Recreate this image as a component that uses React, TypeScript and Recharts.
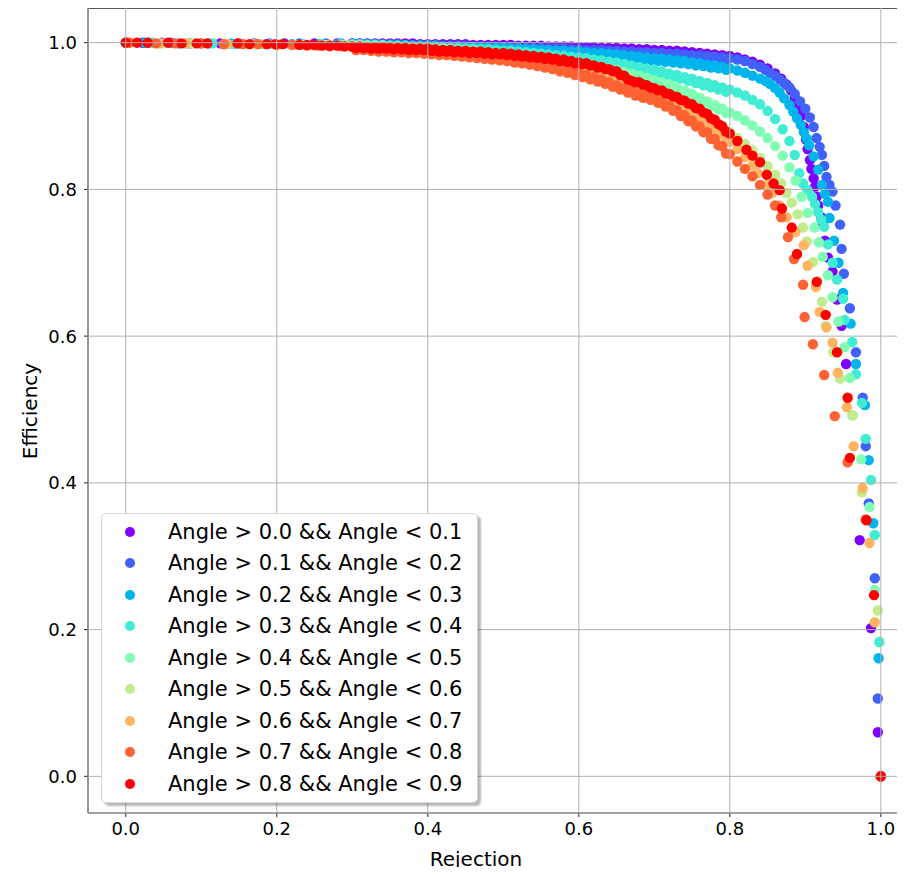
import React from 'react';
import { ScatterChart, Scatter, XAxis, YAxis, ZAxis, CartesianGrid, Legend, Label, ReferenceLine } from 'recharts';

type Pt = [number, number];

const xTicks = [0, 0.2, 0.4, 0.6, 0.8, 1.0];
const yTicks = [0, 0.2, 0.4, 0.6, 0.8, 1.0];

// rejection values of the dense top part of every curve
const bodyRejection = [
  0.30, 0.31, 0.32, 0.33, 0.34, 0.35, 0.36, 0.37, 0.38, 0.39,
  0.40, 0.41, 0.42, 0.43, 0.44, 0.45, 0.46, 0.47, 0.48, 0.49,
  0.50, 0.51, 0.52, 0.53, 0.54, 0.55, 0.56, 0.57, 0.58, 0.59,
  0.60, 0.61, 0.62, 0.63, 0.64, 0.65, 0.66, 0.67, 0.68, 0.69,
  0.70, 0.71, 0.72, 0.73, 0.74, 0.75, 0.76, 0.77, 0.78, 0.79,
  0.80,
];
// points lying in between (the bands are drawn by many overlapping dots)
const midRejection = [
  0.305, 0.315, 0.325, 0.335, 0.345, 0.355, 0.365, 0.375, 0.385, 0.395,
  0.405, 0.415, 0.425, 0.435, 0.445, 0.455, 0.465, 0.475, 0.485, 0.495,
  0.505, 0.515, 0.525, 0.535, 0.545, 0.555, 0.565, 0.575, 0.585, 0.595,
  0.605, 0.615, 0.625, 0.635, 0.645, 0.655, 0.665, 0.675, 0.685, 0.695,
  0.705, 0.715, 0.725, 0.735, 0.745, 0.755, 0.765, 0.775, 0.785, 0.795,
];

// Angle 0.0 - 0.1
const angle0Head: Pt[] = [[0.0, 1.0], [0.022, 1.0], [0.048, 1.0], [0.085, 0.999], [0.125, 0.999], [0.17, 0.999], [0.21, 0.999], [0.25, 0.999], [0.28, 0.999]];
const angle0Body = [
  .999, .999, .999, .999, .999, .999, .999, .999, .999, .998,
  .998, .998, .998, .998, .998, .998, .997, .997, .997, .997,
  .997, .997, .996, .996, .996, .996, .995, .995, .995, .995,
  .994, .994, .994, .993, .993, .993, .992, .992, .991, .991,
  .990, .990, .989, .989, .988, .987, .986, .985, .984, .983,
  .982,
];
const angle0Mid = [
  .997, .997, .997, .997, .997, .997, .997, .997, .996, .996,
  .996, .996, .996, .996, .996, .995, .995, .995, .995, .995,
  .995, .994, .994, .994, .994, .993, .993, .993, .993, .992,
  .992, .992, .991, .991, .991, .990, .990, .989, .989, .988,
  .988, .987, .987, .986, .985, .984, .983, .982, .981, .980,
];
const angle0Tail: Pt[] = [[.81, .980], [.82, .977], [.83, .974], [.84, .970], [.85, .965], [.86, .958], [.868, .951], [.875, .943], [.881, .935], [.886, .925], [.89, .913], [.894, .900], [.898, .885], [.901, .868], [.903, .855], [.906, .840], [.908, .828], [.911, .815], [.913, .804], [.915, .790], [.917, .778], [.921, .762], [.923, .752], [.926, .730], [.93, .707], [.936, .688], [.942, .650], [.948, .614], [.954, .562], [.972, .322], [.987, .202], [.996, .060], [1.0, 0.0]];

// Angle 0.1 - 0.2
const angle1Head: Pt[] = [[0.0, 1.0], [0.03, 1.0], [0.06, 1.0], [0.1, 0.999], [0.15, 0.999], [0.19, 0.999], [0.23, 0.999], [0.265, 0.999], [0.285, 0.999]];
const angle1Body = [
  .999, .999, .998, .998, .998, .998, .998, .997, .997, .997,
  .997, .997, .996, .996, .996, .996, .995, .995, .995, .995,
  .994, .994, .994, .993, .993, .993, .992, .992, .992, .991,
  .991, .990, .990, .990, .989, .989, .988, .988, .987, .987,
  .986, .986, .985, .985, .984, .983, .983, .982, .981, .980,
  .979,
];
const angle1Mid = [
  .996, .996, .995, .995, .995, .995, .995, .994, .994, .994,
  .994, .993, .993, .993, .993, .992, .992, .992, .992, .991,
  .991, .991, .990, .990, .990, .989, .989, .989, .988, .988,
  .987, .987, .987, .986, .986, .985, .985, .984, .984, .983,
  .983, .982, .982, .981, .980, .980, .979, .978, .977, .976,
];
const angle1Tail: Pt[] = [[.81, .977], [.82, .975], [.83, .971], [.84, .967], [.847, .963], [.853, .959], [.86, .955], [.866, .950], [.872, .945], [.879, .939], [.886, .930], [.893, .920], [.9, .910], [.906, .898], [.911, .885], [.915, .870], [.919, .858], [.922, .847], [.925, .832], [.928, .817], [.932, .806], [.936, .797], [.94, .778], [.946, .752], [.948, .719], [.951, .685], [.959, .638], [.967, .578], [.976, .516], [.98, .450], [.984, .372], [.992, .270], [.996, .106], [1.0, 0.0]];

// Angle 0.2 - 0.3
const angle2Head: Pt[] = [[0.0, 1.0], [0.025, 1.0], [0.07, 0.999], [0.11, 0.999], [0.14, 0.999], [0.185, 0.998], [0.22, 0.998], [0.255, 0.998], [0.28, 0.998]];
const angle2Body = [
  .998, .998, .998, .998, .997, .997, .997, .997, .996, .996,
  .996, .996, .995, .995, .995, .994, .994, .994, .993, .993,
  .993, .992, .992, .991, .991, .990, .990, .989, .989, .988,
  .988, .987, .986, .986, .985, .984, .983, .982, .981, .980,
  .979, .978, .977, .976, .975, .973, .972, .970, .969, .967,
  .965,
];
const angle2Mid = [
  .995, .995, .995, .994, .994, .994, .994, .993, .993, .993,
  .993, .992, .992, .992, .991, .991, .991, .990, .990, .990,
  .989, .989, .988, .988, .987, .987, .986, .986, .985, .985,
  .984, .983, .983, .982, .981, .980, .979, .978, .977, .976,
  .975, .974, .973, .972, .971, .969, .968, .966, .965, .963,
];
const angle2Tail: Pt[] = [[.81, .962], [.82, .959], [.83, .955], [.84, .951], [.847, .948], [.853, .944], [.86, .938], [.866, .932], [.872, .924], [.879, .915], [.884, .906], [.889, .897], [.894, .888], [.898, .878], [.902, .869], [.905, .860], [.911, .845], [.917, .827], [.922, .806], [.926, .794], [.93, .783], [.932, .761], [.938, .730], [.944, .700], [.95, .659], [.96, .617], [.967, .562], [.979, .506], [.984, .431], [.99, .345], [.997, .161], [1.0, 0.0]];

// Angle 0.3 - 0.4
const angle3Head: Pt[] = [[0.0, 1.0], [0.035, 1.0], [0.08, 0.999], [0.115, 0.999], [0.145, 0.998], [0.19, 0.998], [0.235, 0.998], [0.26, 0.998], [0.285, 0.998]];
const angle3Body = [
  .998, .998, .997, .997, .997, .996, .996, .996, .995, .995,
  .995, .994, .994, .993, .993, .992, .992, .991, .991, .990,
  .989, .989, .988, .987, .986, .985, .984, .983, .982, .981,
  .980, .979, .977, .976, .974, .973, .971, .969, .967, .965,
  .963, .961, .958, .956, .953, .951, .948, .945, .942, .939,
  .936,
];
const angle3Mid = [
  .994, .994, .993, .993, .993, .992, .992, .992, .991, .991,
  .990, .990, .989, .989, .988, .988, .987, .987, .986, .985,
  .985, .984, .983, .982, .981, .980, .979, .978, .977, .976,
  .975, .974, .972, .971, .970, .968, .966, .964, .962, .960,
  .958, .956, .953, .951, .948, .945, .942, .939, .936, .933,
];
const angle3Tail: Pt[] = [[.81, .932], [.82, .928], [.83, .922], [.84, .916], [.85, .907], [.86, .896], [.87, .882], [.879, .866], [.886, .847], [.892, .822], [.897, .808], [.903, .799], [.909, .790], [.913, .780], [.917, .769], [.921, .759], [.925, .749], [.93, .725], [.936, .700], [.942, .677], [.95, .651], [.952, .622], [.962, .592], [.967, .548], [.975, .509], [.98, .460], [.987, .404], [.992, .329], [.998, .183], [1.0, 0.0]];

// Angle 0.4 - 0.5
const angle4Head: Pt[] = [[0.0, 1.0], [0.045, 0.999], [0.09, 0.999], [0.13, 0.998], [0.17, 0.998], [0.205, 0.998], [0.24, 0.997], [0.27, 0.997], [0.29, 0.997]];
const angle4Body = [
  .997, .997, .996, .996, .996, .995, .995, .994, .994, .993,
  .993, .992, .992, .991, .990, .990, .989, .988, .987, .986,
  .985, .984, .983, .982, .981, .980, .979, .977, .976, .974,
  .973, .971, .969, .967, .965, .963, .960, .958, .955, .952,
  .949, .946, .943, .939, .935, .930, .925, .920, .915, .910,
  .905,
];
const angle4Mid = [
  .993, .993, .992, .992, .992, .991, .991, .990, .990, .989,
  .988, .988, .987, .987, .986, .985, .984, .983, .982, .981,
  .980, .979, .978, .977, .976, .975, .974, .972, .971, .970,
  .968, .966, .964, .962, .960, .958, .955, .953, .950, .947,
  .944, .941, .937, .933, .929, .924, .919, .914, .909, .904,
];
const angle4Tail: Pt[] = [[.81, .900], [.82, .894], [.83, .887], [.84, .879], [.85, .870], [.86, .859], [.87, .846], [.879, .830], [.887, .812], [.895, .790], [.903, .768], [.912, .748], [.918, .728], [.923, .708], [.93, .683], [.936, .653], [.944, .620], [.952, .585], [.959, .543], [.962, .492], [.974, .432], [.985, .367], [.992, .254], [1.0, 0.0]];

// Angle 0.5 - 0.6
const angle5Head: Pt[] = [[0.0, 1.0], [0.05, 0.999], [0.085, 0.999], [0.13, 0.998], [0.165, 0.998], [0.2, 0.997], [0.235, 0.997], [0.265, 0.997], [0.29, 0.996]];
const angle5Body = [
  .996, .996, .995, .995, .995, .994, .994, .993, .993, .992,
  .992, .991, .990, .990, .989, .988, .987, .986, .985, .984,
  .983, .982, .981, .979, .978, .976, .975, .973, .971, .969,
  .968, .965, .962, .959, .956, .953, .950, .946, .943, .940,
  .936, .932, .927, .922, .917, .911, .905, .899, .892, .885,
  .878,
];
const angle5Mid = [
  .992, .992, .991, .991, .991, .990, .989, .989, .988, .988,
  .987, .986, .986, .985, .984, .983, .982, .981, .980, .979,
  .978, .977, .976, .974, .973, .971, .970, .968, .966, .964,
  .962, .959, .956, .953, .950, .947, .944, .941, .937, .934,
  .930, .926, .921, .916, .910, .904, .898, .892, .885, .878,
];
const angle5Tail: Pt[] = [[.81, .870], [.82, .862], [.83, .853], [.84, .843], [.85, .832], [.86, .820], [.868, .808], [.875, .795], [.882, .782], [.89, .766], [.897, .748], [.902, .729], [.91, .701], [.916, .675], [.922, .647], [.927, .614], [.937, .578], [.946, .542], [.963, .492], [.975, .387], [.996, .226], [1.0, 0.0]];

// Angle 0.6 - 0.7
const angle6Head: Pt[] = [[0.005, 1.0], [0.045, 0.999], [0.08, 0.999], [0.135, 0.998], [0.155, 0.998], [0.178, 0.998], [0.2, 0.997], [0.225, 0.997], [0.25, 0.996], [0.27, 0.996], [0.29, 0.995]];
const angle6Body = [
  .995, .995, .994, .994, .993, .993, .992, .992, .991, .991,
  .990, .990, .989, .989, .988, .987, .987, .986, .985, .985,
  .984, .983, .982, .981, .980, .979, .977, .976, .974, .972,
  .970, .968, .965, .962, .959, .956, .952, .948, .944, .940,
  .935, .930, .925, .919, .913, .907, .900, .892, .884, .875,
  .865,
];
const angle6Mid = [
  .991, .991, .990, .990, .989, .989, .988, .988, .987, .987,
  .986, .986, .985, .984, .984, .983, .982, .981, .981, .980,
  .979, .978, .977, .976, .975, .974, .972, .971, .969, .967,
  .965, .962, .960, .957, .953, .950, .946, .942, .938, .934,
  .929, .924, .918, .912, .906, .900, .892, .884, .875, .866,
];
const angle6Tail: Pt[] = [[.81, .855], [.82, .844], [.83, .833], [.837, .822], [.848, .806], [.856, .795], [.866, .778], [.875, .762], [.887, .742], [.898, .724], [.903, .696], [.914, .667], [.919, .633], [.928, .612], [.936, .591], [.943, .550], [.955, .503], [.964, .450], [.976, .393], [.985, .318], [.992, .210], [1.0, 0.0]];

// Angle 0.7 - 0.8
const angle7Head: Pt[] = [[0.005, 1.0], [0.04, 0.999], [0.065, 0.999], [0.1, 0.999], [0.13, 0.998], [0.155, 0.998], [0.175, 0.998], [0.2, 0.997], [0.22, 0.997], [0.24, 0.996], [0.255, 0.996], [0.27, 0.995], [0.285, 0.995]];
const angle7Body = [
  .994, .994, .993, .993, .992, .992, .991, .991, .990, .990,
  .989, .988, .987, .987, .986, .985, .984, .983, .982, .981,
  .980, .978, .977, .975, .973, .971, .969, .967, .964, .962,
  .959, .956, .953, .950, .946, .942, .938, .934, .931, .928,
  .925, .920, .914, .908, .901, .894, .886, .878, .869, .859,
  .848,
];
const angle7Mid = [
  .990, .990, .989, .988, .988, .987, .987, .986, .986, .985,
  .984, .983, .983, .982, .981, .980, .979, .978, .977, .976,
  .975, .973, .972, .970, .968, .966, .964, .961, .959, .956,
  .953, .950, .947, .944, .940, .936, .932, .928, .925, .922,
  .918, .913, .907, .900, .893, .886, .878, .869, .860, .849,
];
const angle7Tail: Pt[] = [[.81, .838], [.82, .828], [.83, .818], [.84, .806], [.85, .793], [.86, .778], [.868, .762], [.877, .735], [.885, .705], [.897, .670], [.899, .626], [.91, .589], [.925, .547], [.939, .491], [.956, .428], [.98, .350], [1.0, 0.0]];

// Angle 0.8 - 0.9
const angle8Head: Pt[] = [[0.0, 1.0], [0.015, 1.0], [0.029, 1.0], [0.056, 1.0], [0.074, 0.999], [0.094, 0.999], [0.108, 0.999], [0.148, 0.999], [0.164, 0.998], [0.187, 0.998], [0.198, 0.998], [0.208, 0.998], [0.23, 0.997], [0.24, 0.997], [0.25, 0.997], [0.26, 0.996], [0.27, 0.996], [0.28, 0.996], [0.29, 0.995]];
const angle8Body = [
  .995, .995, .994, .994, .994, .993, .993, .993, .992, .992,
  .992, .991, .990, .990, .989, .989, .988, .988, .987, .986,
  .986, .985, .984, .983, .982, .981, .980, .978, .977, .975,
  .973, .972, .969, .967, .964, .961, .955, .948, .946, .942,
  .938, .935, .930, .926, .921, .916, .910, .903, .895, .886,
  .876,
];
const angle8Mid = [
  .993, .993, .992, .992, .992, .991, .991, .990, .990, .990,
  .989, .988, .988, .987, .987, .986, .986, .985, .984, .984,
  .983, .982, .981, .980, .979, .978, .977, .975, .974, .972,
  .971, .969, .966, .964, .961, .956, .950, .946, .943, .939,
  .935, .931, .927, .922, .917, .911, .905, .897, .889, .879,
];
const angle8Tail: Pt[] = [[.81, .866], [.822, .854], [.83, .846], [.84, .837], [.849, .820], [.858, .808], [.866, .799], [.869, .774], [.882, .748], [.889, .712], [.915, .674], [.927, .629], [.942, .578], [.956, .516], [.959, .434], [.981, .349], [.991, .247], [1.0, 0.0]];

const seriesNames = [
  'Angle > 0.0 && Angle < 0.1',
  'Angle > 0.1 && Angle < 0.2',
  'Angle > 0.2 && Angle < 0.3',
  'Angle > 0.3 && Angle < 0.4',
  'Angle > 0.4 && Angle < 0.5',
  'Angle > 0.5 && Angle < 0.6',
  'Angle > 0.6 && Angle < 0.7',
  'Angle > 0.7 && Angle < 0.8',
  'Angle > 0.8 && Angle < 0.9',
];
const seriesColors = ['#8000ff', '#4062fa', '#00b4ec', '#40ecd4', '#80ffb4', '#c0ec8e', '#ffb462', '#ff6232', '#ff0000'];

const heads = [angle0Head, angle1Head, angle2Head, angle3Head, angle4Head, angle5Head, angle6Head, angle7Head, angle8Head];
const bodies = [angle0Body, angle1Body, angle2Body, angle3Body, angle4Body, angle5Body, angle6Body, angle7Body, angle8Body];
const mids = [angle0Mid, angle1Mid, angle2Mid, angle3Mid, angle4Mid, angle5Mid, angle6Mid, angle7Mid, angle8Mid];
const tails = [angle0Tail, angle1Tail, angle2Tail, angle3Tail, angle4Tail, angle5Tail, angle6Tail, angle7Tail, angle8Tail];

const series = seriesNames.map((name, i) => ({
  name,
  color: seriesColors[i],
  points: [
    ...heads[i],
    ...bodyRejection.map((x, j): Pt => [x, bodies[i][j]]),
    ...midRejection.map((x, j): Pt => [x, mids[i][j]]),
    ...tails[i],
  ].map(([x, y]) => ({ x, y })),
}));

const FONT = '"DejaVu Sans", "Liberation Sans", sans-serif';

const LegendBox = () => (
  <div
    style={{
      width: 377,
      height: 290,
      boxSizing: 'border-box',
      background: '#fff',
      border: '1px solid #d6d6d6',
      borderRadius: 5,
      boxShadow: '3px 3px 2px rgba(0,0,0,0.28)',
      paddingTop: 2,
      fontFamily: FONT,
      fontSize: 21,
      color: '#000',
    }}
  >
    {series.map(s => (
      <div key={s.name} style={{ height: 31.5, display: 'flex', alignItems: 'center', whiteSpace: 'nowrap' }}>
        <span style={{ display: 'inline-block', width: 10, height: 10, borderRadius: '50%', background: s.color, marginLeft: 23, marginRight: 33 }} />
        <span>{s.name}</span>
      </div>
    ))}
  </div>
);

const App: React.FC = () => {
  return (
    <div style={{ margin: -8, width: 905, height: 875, position: 'relative', background: '#fff' }}>
      <ScatterChart width={905} height={875} margin={{ top: 6, right: 0, bottom: 0, left: 0 }}>
        <XAxis
          type="number"
          dataKey="x"
          domain={[-0.05, 1.032]}
          ticks={xTicks}
          interval={0}
          allowDataOverflow
          height={62}
          tickSize={4}
          tickMargin={5}
          tickFormatter={(v: number) => v.toFixed(1)}
          tick={{ fontSize: 18, fill: '#000', fontFamily: FONT }}
          axisLine={{ stroke: '#222', strokeWidth: 1.2 }}
          tickLine={{ stroke: '#222' }}
        >
          <Label
            content={() => (
              <text x={476} y={866} textAnchor="middle" fontSize={20} fontFamily={FONT} fill="#000">
                Rejection
              </text>
            )}
          />
        </XAxis>
        <YAxis
          type="number"
          dataKey="y"
          domain={[-0.05, 1.05]}
          ticks={yTicks}
          interval={0}
          allowDataOverflow
          width={88}
          tickSize={4}
          tickMargin={7}
          tickFormatter={(v: number) => v.toFixed(1)}
          tick={{ fontSize: 18, fill: '#000', fontFamily: FONT }}
          axisLine={{ stroke: '#222', strokeWidth: 1.2 }}
          tickLine={{ stroke: '#222' }}
        >
          <Label
            content={() => (
              <text x={37} y={411} transform="rotate(-90, 37, 411)" textAnchor="middle" fontSize={20} fontFamily={FONT} fill="#000">
                Efficiency
              </text>
            )}
          />
        </YAxis>
        <ZAxis range={[85, 85]} />
        {series.map(s => (
          <Scatter key={s.name} name={s.name} data={s.points} fill={s.color} isAnimationActive={false} />
        ))}
        <CartesianGrid stroke="#b0b0b0" strokeWidth={1} zIndex={700} />
        {/* top spine, drawn just inside the upper domain edge */}
        <ReferenceLine y={1.047} stroke="#222" strokeWidth={1.2} ifOverflow="extendDomain" />
        <Legend
          layout="vertical"
          align="center"
          verticalAlign="middle"
          content={() => <LegendBox />}
          wrapperStyle={{ left: 101, top: 513, right: 'auto', bottom: 'auto', width: 377, height: 290 }}
        />
      </ScatterChart>
      <div style={{ position: 'absolute', left: 88, top: 5, width: 817, height: 0, borderTop: '1.3px solid #222', pointerEvents: 'none' }} />
    </div>
  );
};

export default App;
